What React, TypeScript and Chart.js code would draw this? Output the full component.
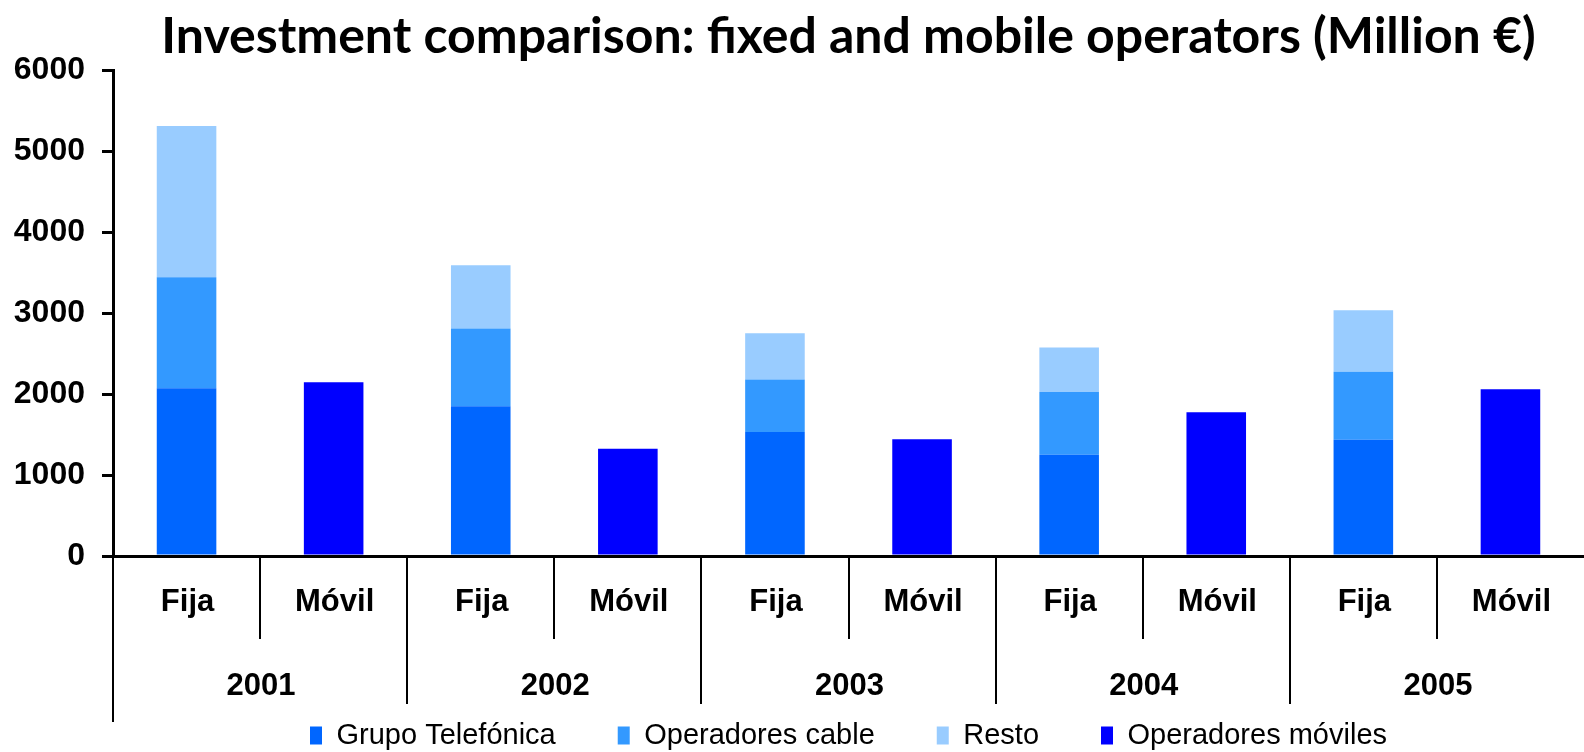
import React, { useEffect, useRef } from 'react';
import { Chart, registerables } from 'chart.js';

Chart.register(...registerables);

const years = ['2001', '2002', '2003', '2004', '2005'];
const subLabels = ['Fija', 'Móvil'];
const seriesNames = ['Grupo Telefónica', 'Operadores cable', 'Resto', 'Operadores móviles'];
const seriesColors = ['#0066FF', '#3399FF', '#99CCFF', '#0000FF'];

// Million € per year
const grupoTelefonica = [2070, 1850, 1530, 1250, 1435];
const operadoresCable = [1370, 960, 650, 775, 840];
const resto = [1870, 780, 570, 550, 760];
const operadoresMoviles = [2145, 1325, 1440, 1775, 2060];

const yTicks = [0, 1000, 2000, 3000, 4000, 5000, 6000];

const titleText = 'Investment comparison: fixed and mobile operators (Million €)';

const categories = years.flatMap((y) => subLabels.map((s) => `${s} ${y}`));
const onFija = (vals: number[]) => years.flatMap((_, i) => [vals[i], null]);
const onMovil = (vals: number[]) => years.flatMap((_, i) => [null, vals[i]]);

const AXIS_FONT = 'bold 31px "Liberation Sans", Arial, sans-serif';

const groupAxisPlugin = {
  id: 'groupAxis',
  afterDraw(chart: any) {
    const { ctx, chartArea, scales } = chart;
    const x = scales.x;
    const base = chartArea.bottom;
    const half = (x.getPixelForValue(1) - x.getPixelForValue(0)) / 2;
    ctx.save();
    ctx.fillStyle = '#000';
    ctx.strokeStyle = '#000';
    ctx.lineWidth = 2;
    ctx.font = AXIS_FONT;
    ctx.textAlign = 'center';
    ctx.textBaseline = 'middle';
    for (let i = 0; i < categories.length; i++) {
      const cx = x.getPixelForValue(i);
      ctx.fillText(subLabels[i % 2], cx + 1, base + 46);
      const bx = Math.round(cx - half);
      const len = i === 0 ? 166 : i % 2 === 0 ? 148 : 83;
      ctx.beginPath();
      ctx.moveTo(bx, base);
      ctx.lineTo(bx, base + len);
      ctx.stroke();
    }
    years.forEach((y, j) => {
      const cx = (x.getPixelForValue(2 * j) + x.getPixelForValue(2 * j + 1)) / 2;
      ctx.fillText(y, cx + 1, base + 130);
    });
    ctx.restore();
  },
};

export default function App() {
  const ref = useRef<HTMLCanvasElement>(null);
  useEffect(() => {
    const datasets = [
      { label: seriesNames[0], data: onFija(grupoTelefonica), backgroundColor: seriesColors[0] },
      { label: seriesNames[1], data: onFija(operadoresCable), backgroundColor: seriesColors[1] },
      { label: seriesNames[2], data: onFija(resto), backgroundColor: seriesColors[2] },
      { label: seriesNames[3], data: onMovil(operadoresMoviles), backgroundColor: seriesColors[3] },
    ].map((d) => ({ ...d, borderWidth: 0, categoryPercentage: 0.405, barPercentage: 1 }));

    const chart = new Chart(ref.current as HTMLCanvasElement, {
      type: 'bar',
      data: { labels: categories, datasets: datasets as any },
      options: {
        animation: false,
        responsive: true,
        maintainAspectRatio: false,
        layout: { padding: { left: 0, right: -9, top: 0, bottom: 0 } },
        plugins: {
          tooltip: { enabled: false },
          title: {
            display: true,
            text: titleText,
            fullSize: false,
            color: '#000',
            font: { family: 'Lato, "Open Sans", sans-serif', weight: 'bold', size: 50, lineHeight: 1.2 },
            padding: { top: 7, bottom: 3 },
          },
          legend: {
            position: 'bottom',
            fullSize: false,
            maxHeight: 93,
            labels: {
              boxWidth: 12,
              boxHeight: 18,
              padding: 62,
              color: '#000',
              font: { family: '"Liberation Sans", Arial, sans-serif', size: 29 },
            },
          },
        },
        scales: {
          x: {
            stacked: true,
            offset: true,
            grid: { display: false },
            ticks: { display: false },
            border: { display: true, color: '#000', width: 3 },
            afterFit: (scale: any) => {
              scale.height = 103;
            },
          },
          y: {
            stacked: true,
            min: yTicks[0],
            max: yTicks[yTicks.length - 1],
            afterBuildTicks: (scale: any) => {
              scale.ticks = yTicks.map((v) => ({ value: v }));
            },
            grid: { drawOnChartArea: false, drawTicks: true, tickLength: 11, color: '#000', lineWidth: 3 },
            border: { display: true, color: '#000', width: 3 },
            ticks: {
              color: '#000',
              padding: 17,
              font: { family: '"Liberation Sans", Arial, sans-serif', weight: 'bold', size: 32 },
              callback: (v: any) => String(v),
            },
            afterFit: (scale: any) => {
              scale.width = 113;
            },
          },
        },
      },
      plugins: [groupAxisPlugin],
    });
    const fonts: any = (document as any).fonts;
    if (fonts && fonts.load) {
      Promise.all([fonts.load('bold 50px Lato'), fonts.load('31px "Liberation Sans"')]).then(() => chart.update());
    }
    return () => chart.destroy();
  }, []);
  return (
    <div style={{ position: 'fixed', left: 0, top: 0, width: 1584, height: 752, background: '#fff' }}>
      <canvas ref={ref} />
    </div>
  );
}
